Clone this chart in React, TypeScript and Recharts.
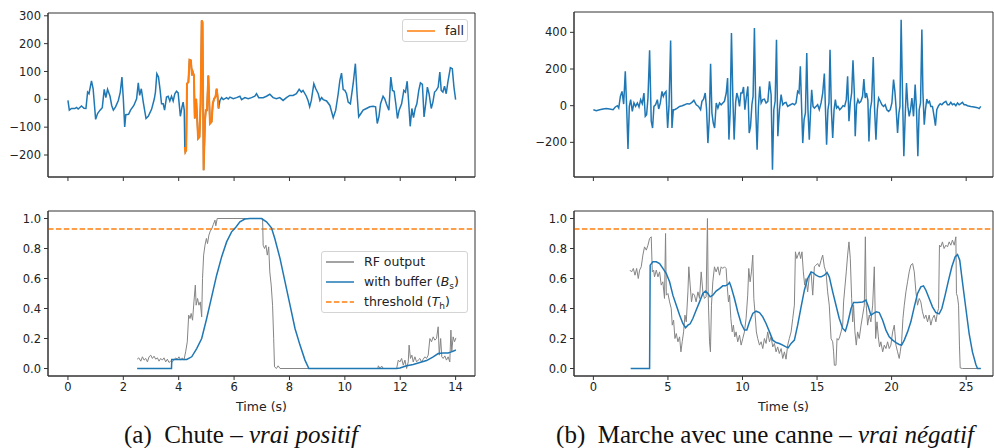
import { LineChart, Line, XAxis, YAxis, ReferenceLine, ReferenceArea } from 'recharts'
import type { ReactNode } from 'react'

const BLUE = '#1f77b4'
const ORANGE = '#ff7f0e'
const GREY = '#858585'
const SPINE = '#333'
const INK = '#222'
const FONT = '"DejaVu Sans", sans-serif'

type Pt = [number, number]

// (a) chute: accelerometer signal, the fall segment is drawn again in orange
const signalA_before: Pt[] = [
  [0.0, -4], [0.05, -39], [0.13, -33], [0.25, -33], [0.31, -29], [0.37, -35], [0.49, -24], [0.58, -32],
  [0.65, -33], [0.71, 26], [0.76, 20], [0.85, 66], [0.91, 38], [1.0, -72], [1.07, -51], [1.16, -39],
  [1.24, -30], [1.31, 36], [1.37, 6], [1.43, 36], [1.52, 11], [1.58, -22], [1.64, -39], [1.72, -27],
  [1.82, -4], [1.89, 26], [1.95, 80], [2.0, 2], [2.05, -99], [2.09, -55], [2.19, -54], [2.26, -39],
  [2.38, -22], [2.48, 2], [2.54, 59], [2.59, 14], [2.65, 38], [2.72, -10], [2.82, -69], [2.9, -61],
  [3.02, -36], [3.12, 2], [3.16, 26], [3.21, 92], [3.27, 80], [3.33, 32], [3.38, -16], [3.44, -16],
  [3.49, -39], [3.56, 8], [3.62, 11], [3.68, -6], [3.74, 11], [3.8, -6], [3.86, 20], [3.92, 29],
  [3.98, 23], [4.06, -61], [4.12, -27], [4.16, -10], [4.2, -39],
]
const fallA: Pt[] = [
  [4.22, -171], [4.24, -189], [4.27, -183], [4.3, 56], [4.35, 62], [4.39, 142], [4.44, 140], [4.48, 86],
  [4.51, 98], [4.55, 86], [4.58, -69], [4.63, 2], [4.67, -75], [4.7, -141], [4.75, -135], [4.79, -16],
  [4.83, 283], [4.86, 277], [4.9, -255], [4.95, -75], [4.98, -39], [5.02, -39], [5.07, 85], [5.13, -87],
  [5.19, -80], [5.23, -16], [5.28, 2], [5.33, 10], [5.37, 38], [5.4, 14], [5.44, -33],
]
const signalA_after: Pt[] = [
  [5.49, -4], [5.55, 6], [5.61, -1], [5.73, 6], [5.79, 1], [5.85, 8], [5.97, 2], [6.09, 6], [6.21, 11],
  [6.27, -1], [6.39, 6], [6.51, 2], [6.63, 6], [6.75, 11], [6.81, 20], [6.89, 6], [7.05, 6], [7.17, 11],
  [7.29, 18], [7.41, 6], [7.53, 2], [7.65, 6], [7.77, -4], [7.89, 6], [8.01, 14], [8.13, 14], [8.25, 20],
  [8.35, 36], [8.43, 26], [8.49, 32], [8.61, 11], [8.67, -4], [8.73, -27], [8.79, -4], [8.88, 56],
  [8.95, 38], [9.04, 20], [9.1, -4], [9.16, 6], [9.22, -1], [9.34, -6], [9.46, -22], [9.58, -66],
  [9.67, -39], [9.76, 20], [9.82, 68], [9.88, 94], [9.94, 35], [10.0, 32], [10.06, 20], [10.12, -10],
  [10.2, -16], [10.3, 56], [10.38, 128], [10.44, 20], [10.5, -63], [10.58, -51], [10.66, -39],
  [10.78, -33], [10.9, -27], [11.02, -25], [11.11, -27], [11.17, -87], [11.23, -63], [11.29, -16],
  [11.38, 11], [11.44, 2], [11.5, -16], [11.59, -39], [11.66, 80], [11.72, 32], [11.78, 29],
  [11.84, -16], [11.9, -69], [11.96, -39], [12.05, -16], [12.13, 32], [12.19, 26], [12.25, 65],
  [12.3, -4], [12.36, -97], [12.42, -33], [12.48, -66], [12.54, -33], [12.6, -16], [12.67, 32],
  [12.73, 59], [12.8, 54], [12.86, -63], [12.92, -16], [12.98, 44], [13.04, 20], [13.12, -33],
  [13.18, -10], [13.24, 26], [13.3, 32], [13.37, 44], [13.43, 98], [13.48, 32], [13.54, 26],
  [13.6, 47], [13.66, 20], [13.72, 62], [13.81, 114], [13.88, 110], [13.94, 44], [14.0, -1],
]

// (b) marche avec une canne: accelerometer signal
const signalB: Pt[] = [
  [0.0, -22], [0.2, -27], [0.42, -22], [0.65, -18], [0.87, -15], [1.09, -18], [1.32, -22], [1.47, -7],
  [1.61, 0], [1.7, -13], [1.81, 51], [1.92, 78], [2.03, 9], [2.14, 187], [2.23, -4], [2.32, -236],
  [2.41, -4], [2.5, 33], [2.61, -31], [2.72, 15], [2.83, -4], [2.95, 15], [3.06, -7], [3.17, 33],
  [3.28, 11], [3.39, 69], [3.48, -58], [3.57, -49], [3.66, 42], [3.77, 302], [3.88, -85], [3.97, -122],
  [4.06, -4], [4.17, 5], [4.29, 33], [4.38, -18], [4.49, 15], [4.6, 78], [4.69, 51], [4.78, 69],
  [4.87, 78], [4.98, -122], [5.07, -4], [5.18, 356], [5.27, -122], [5.36, -22], [5.45, -22],
  [5.63, -13], [5.78, -4], [5.96, 0], [6.12, 5], [6.29, 11], [6.45, 9], [6.61, 18], [6.74, 29],
  [6.9, 5], [7.05, -4], [7.19, -22], [7.28, 24], [7.39, 36], [7.5, 69], [7.59, -18], [7.68, -204],
  [7.77, -76], [7.86, 229], [7.95, -40], [8.04, -95], [8.13, -122], [8.24, 15], [8.35, -13],
  [8.46, 15], [8.57, 5], [8.68, 15], [8.79, 24], [8.91, 69], [9.0, 151], [9.09, -185], [9.17, -40],
  [9.26, 396], [9.35, 51], [9.44, -185], [9.54, 18], [9.62, 69], [9.71, 42], [9.8, -4], [9.89, 69],
  [9.98, 69], [10.07, 102], [10.16, -22], [10.25, 42], [10.36, 105], [10.45, -149], [10.54, -113],
  [10.63, 5], [10.71, 51], [10.8, 424], [10.89, -22], [10.98, -240], [11.07, -4], [11.16, 105],
  [11.25, 15], [11.36, 33], [11.47, 36], [11.58, 15], [11.7, 24], [11.81, 133], [11.92, 60],
  [12.01, -349], [12.1, -22], [12.19, 24], [12.28, 360], [12.37, -167], [12.48, -22], [12.59, 60],
  [12.7, 5], [12.81, 15], [12.92, 18], [13.03, -4], [13.21, 5], [13.37, 11], [13.48, 5], [13.59, 15],
  [13.7, 78], [13.79, 69], [13.88, 215], [13.97, -22], [14.04, -204], [14.13, -76], [14.22, -40],
  [14.31, 287], [14.39, -22], [14.48, -185], [14.57, -22], [14.64, 87], [14.73, -4], [14.82, -13],
  [14.93, -4], [15.04, 5], [15.15, -22], [15.27, 15], [15.38, 69], [15.49, 175], [15.58, -58],
  [15.64, -213], [15.73, -22], [15.8, 15], [15.87, 305], [15.96, -22], [16.05, -176], [16.14, -22],
  [16.23, 33], [16.31, -13], [16.4, -4], [16.52, -22], [16.63, -13], [16.74, 0], [16.85, -4],
  [16.96, 33], [17.05, 160], [17.14, -85], [17.23, 15], [17.32, 69], [17.41, 247], [17.5, 69],
  [17.56, -167], [17.65, 5], [17.74, 33], [17.83, 15], [17.94, 24], [18.05, 51], [18.14, 145],
  [18.23, 42], [18.32, 69], [18.41, 29], [18.48, -195], [18.57, -22], [18.66, 24], [18.77, 265],
  [18.86, -22], [18.95, -185], [19.04, -22], [19.13, 42], [19.24, 24], [19.35, 5], [19.46, -4],
  [19.57, 5], [19.68, -22], [19.8, -31], [19.91, -22], [20.02, 15], [20.13, 142], [20.22, 78],
  [20.31, -22], [20.4, -149], [20.49, -40], [20.56, -4], [20.64, 469], [20.73, 69], [20.82, -276],
  [20.91, -58], [21.0, 124], [21.09, -4], [21.18, -58], [21.27, -22], [21.36, 42], [21.47, -58],
  [21.58, 115], [21.67, -22], [21.76, -276], [21.85, -22], [21.94, 15], [22.03, 415], [22.1, 69],
  [22.19, -104], [22.27, -22], [22.36, 36], [22.45, 15], [22.54, 24], [22.63, -4], [22.74, -4],
  [22.85, -58], [22.94, -109], [23.03, -22], [23.15, 0], [23.26, 11], [23.37, 5], [23.48, 15],
  [23.64, 24], [23.75, 5], [23.86, 5], [23.97, 18], [24.08, 5], [24.19, 11], [24.31, 0], [24.42, 15],
  [24.53, 5], [24.64, 11], [24.75, 18], [24.86, 5], [24.97, 5], [25.09, 0], [25.31, -4], [25.53, -7],
  [25.76, -11], [25.87, -16], [25.98, -4],
]

// classifier outputs
const rfA: Pt[] = [
  [2.5, 0.062], [2.56, 0.071], [2.63, 0.049], [2.69, 0.078], [2.75, 0.056], [2.81, 0.067], [2.87, 0.044],
  [2.93, 0.078], [2.99, 0.089], [3.05, 0.067], [3.11, 0.082], [3.17, 0.062], [3.23, 0.071], [3.29, 0.049],
  [3.35, 0.067], [3.41, 0.056], [3.47, 0.071], [3.53, 0.044], [3.59, 0.062], [3.65, 0.04], [3.71, 0.049],
  [3.77, 0.044], [3.83, 0.056], [3.89, 0.071], [3.95, 0.062], [4.01, 0.078], [4.07, 0.056], [4.13, 0.071],
  [4.19, 0.056], [4.25, 0.111], [4.31, 0.178], [4.36, 0.356], [4.41, 0.333], [4.45, 0.367], [4.5, 0.322],
  [4.55, 0.444], [4.6, 0.556], [4.63, 0.422], [4.68, 0.467], [4.73, 0.422], [4.78, 0.444], [4.83, 0.344],
  [4.86, 0.6], [4.9, 0.756], [4.95, 0.822], [5.0, 0.867], [5.04, 0.833], [5.09, 0.889], [5.14, 0.916],
  [5.19, 0.929], [5.25, 0.96], [5.31, 0.989], [5.34, 0.951], [5.39, 1.0], [7.03, 1.0], [7.05, 0.822],
  [7.1, 0.8], [7.15, 0.822], [7.2, 0.756], [7.25, 0.811], [7.29, 0.644], [7.34, 0.556], [7.39, 0.422],
  [7.43, 0.2], [7.46, 0.011], [7.53, 0], [7.59, 0.018], [7.66, 0], [11.19, 0], [11.21, 0.018], [11.27, 0],
  [11.33, 0.016], [11.39, 0], [11.87, 0], [11.93, 0.056], [11.99, 0.044], [12.05, 0.067], [12.11, 0.022],
  [12.17, 0.056], [12.23, 0], [12.29, 0.044], [12.32, 0.156], [12.37, 0.067], [12.42, 0.089], [12.47, 0.044],
  [12.53, 0.078], [12.59, 0.044], [12.65, 0.056], [12.71, 0.067], [12.77, 0.044], [12.83, 0.062],
  [12.89, 0.078], [12.95, 0.067], [13.01, 0.089], [13.07, 0.2], [13.13, 0.178], [13.19, 0.211],
  [13.25, 0.189], [13.31, 0.2], [13.37, 0.278], [13.41, 0.089], [13.46, 0.2], [13.5, 0.078], [13.55, 0.067],
  [13.61, 0.084], [13.67, 0.056], [13.73, 0.078], [13.79, 0.044], [13.83, 0.256], [13.86, 0.111],
  [13.91, 0.211], [13.96, 0.178], [14.01, 0.204],
]
const bufferA: Pt[] = [
  [2.5, 0], [3.74, 0], [3.75, 0.06], [4.29, 0.06], [4.47, 0.078], [4.65, 0.133], [4.83, 0.2], [5.01, 0.333],
  [5.19, 0.478], [5.37, 0.622], [5.55, 0.744], [5.73, 0.844], [5.91, 0.911], [6.07, 0.944], [6.21, 0.978],
  [6.39, 0.996], [6.57, 1.0], [6.81, 1.0], [6.99, 1.0], [7.17, 0.978], [7.35, 0.938], [7.47, 0.867],
  [7.66, 0.733], [7.84, 0.578], [8.02, 0.422], [8.2, 0.267], [8.38, 0.156], [8.56, 0.056], [8.7, 0],
  [11.87, 0], [11.99, 0.004], [12.23, 0.018], [12.47, 0.027], [12.71, 0.04], [12.95, 0.053], [13.19, 0.078],
  [13.37, 0.1], [13.55, 0.104], [13.73, 0.104], [13.85, 0.111], [13.97, 0.12], [14.01, 0.124],
]
const rfB: Pt[] = [
  [2.45, 0.656], [2.56, 0.644], [2.68, 0.667], [2.79, 0.622], [2.9, 0.667], [3.01, 0.6], [3.1, 0.656],
  [3.21, 0.678], [3.32, 0.756], [3.43, 0.811], [3.55, 0.789], [3.66, 0.822], [3.77, 0.867], [3.88, 0.878],
  [3.95, 0.644], [4.04, 0.656], [4.1, 0.611], [4.22, 0.656], [4.33, 0.611], [4.44, 0.644], [4.55, 0.556],
  [4.66, 0.578], [4.77, 0.467], [4.84, 0.9], [4.89, 0.489], [5.0, 0.5], [5.11, 0.444], [5.22, 0.4],
  [5.29, 0.289], [5.38, 0.322], [5.47, 0.2], [5.56, 0.233], [5.67, 0.178], [5.78, 0.211], [5.87, 0.111],
  [5.96, 0.18], [6.05, 0.244], [6.14, 0.356], [6.23, 0.311], [6.34, 0.511], [6.4, 0.678], [6.49, 0.556],
  [6.58, 0.444], [6.67, 0.5], [6.78, 0.489], [6.89, 0.444], [7.01, 0.511], [7.12, 0.467], [7.23, 0.644],
  [7.34, 0.511], [7.45, 0.467], [7.56, 0.478], [7.65, 1.0], [7.7, 0.489], [7.79, 0.178], [7.85, 0.111],
  [7.92, 0.422], [8.01, 0.578], [8.12, 0.678], [8.23, 0.644], [8.35, 0.678], [8.46, 0.622], [8.57, 0.678],
  [8.68, 0.667], [8.79, 0.678], [8.9, 0.667], [8.97, 0.556], [9.06, 0.444], [9.13, 0.489], [9.22, 0.333],
  [9.31, 0.244], [9.39, 0.289], [9.48, 0.211], [9.57, 0.244], [9.68, 0.178], [9.8, 0.222], [9.91, 0.156],
  [10.02, 0.2], [10.13, 0.244], [10.24, 0.333], [10.35, 0.489], [10.42, 0.667], [10.51, 0.578],
  [10.6, 0.644], [10.69, 0.756], [10.76, 0.467], [10.85, 0.356], [10.93, 0.244], [11.02, 0.2],
  [11.14, 0.156], [11.25, 0.178], [11.36, 0.133], [11.47, 0.2], [11.58, 0.167], [11.69, 0.244],
  [11.81, 0.178], [11.92, 0.211], [12.03, 0.144], [12.14, 0.167], [12.25, 0.111], [12.36, 0.144],
  [12.47, 0.1], [12.59, 0.133], [12.7, 0.067], [12.81, 0.111], [12.92, 0.062], [13.03, 0.156], [13.14, 0.2],
  [13.26, 0.244], [13.37, 0.333], [13.48, 0.422], [13.55, 0.778], [13.64, 0.733], [13.72, 0.756],
  [13.81, 0.778], [13.9, 0.733], [13.99, 0.778], [14.08, 0.644], [14.17, 0.556], [14.26, 0.6],
  [14.37, 0.511], [14.48, 0.611], [14.6, 0.644], [14.71, 0.489], [14.82, 0.678], [14.93, 0.689],
  [15.04, 0.7], [15.15, 0.678], [15.27, 0.722], [15.38, 0.756], [15.49, 0.678], [15.6, 0.644],
  [15.71, 0.511], [15.82, 0.422], [15.94, 0.2], [16.05, 0.178], [16.11, 0.111], [16.16, 0.022],
  [16.27, 0.022], [16.34, 0.2], [16.43, 0.189], [16.52, 0.211], [16.61, 0.244], [16.72, 0.289],
  [16.78, 0.444], [16.87, 0.544], [16.96, 0.644], [17.05, 0.756], [17.14, 0.844], [17.23, 0.733],
  [17.32, 0.467], [17.39, 0.311], [17.45, 0.422], [17.54, 0.244], [17.63, 0.156], [17.72, 0.244],
  [17.83, 0.2], [17.95, 0.289], [18.06, 0.356], [18.17, 0.422], [18.24, 0.878], [18.3, 0.422],
  [18.39, 0.289], [18.5, 0.356], [18.61, 0.311], [18.73, 0.422], [18.84, 0.678], [18.93, 0.2],
  [19.02, 0.311], [19.11, 0.211], [19.19, 0.144], [19.28, 0.178], [19.4, 0.111], [19.51, 0.156],
  [19.62, 0.133], [19.73, 0.178], [19.84, 0.133], [19.95, 0.156], [20.07, 0.244], [20.18, 0.289],
  [20.29, 0.156], [20.4, 0.111], [20.51, 0.067], [20.58, 0.111], [20.67, 0.178], [20.76, 0.333],
  [20.85, 0.422], [20.96, 0.511], [21.07, 0.578], [21.18, 0.644], [21.29, 0.689], [21.41, 0.7],
  [21.52, 0.644], [21.63, 0.511], [21.74, 0.422], [21.85, 0.467], [21.96, 0.444], [22.07, 0.378],
  [22.19, 0.333], [22.3, 0.356], [22.41, 0.311], [22.52, 0.356], [22.63, 0.289], [22.74, 0.333],
  [22.86, 0.356], [22.97, 0.311], [23.08, 0.378], [23.15, 0.4], [23.21, 0.822], [23.3, 0.811],
  [23.41, 0.844], [23.52, 0.8], [23.64, 0.822], [23.75, 0.811], [23.86, 0.844], [23.97, 0.822],
  [24.08, 0.856], [24.2, 0.822], [24.31, 0.878], [24.35, 0.5], [24.42, 0.478], [24.49, 0.422],
  [24.55, 0.156], [24.6, 0.004], [24.75, 0], [25.98, 0],
]
const bufferB: Pt[] = [
  [2.5, 0], [3.77, 0], [3.81, 0.689], [3.99, 0.711], [4.22, 0.711], [4.44, 0.7], [4.66, 0.667], [4.89, 0.633],
  [5.11, 0.578], [5.33, 0.489], [5.56, 0.422], [5.78, 0.356], [6.0, 0.3], [6.18, 0.271], [6.34, 0.289],
  [6.49, 0.298], [6.67, 0.333], [6.89, 0.389], [7.12, 0.444], [7.34, 0.5], [7.52, 0.516], [7.68, 0.5],
  [7.83, 0.478], [8.01, 0.489], [8.23, 0.516], [8.46, 0.533], [8.68, 0.551], [8.86, 0.551], [9.02, 0.56],
  [9.13, 0.573], [9.24, 0.544], [9.46, 0.467], [9.68, 0.378], [9.91, 0.3], [10.13, 0.256], [10.29, 0.256],
  [10.47, 0.311], [10.69, 0.367], [10.91, 0.382], [11.14, 0.373], [11.36, 0.344], [11.58, 0.3],
  [11.81, 0.244], [12.03, 0.189], [12.25, 0.173], [12.47, 0.167], [12.7, 0.156], [12.92, 0.144],
  [13.06, 0.138], [13.26, 0.167], [13.48, 0.189], [13.7, 0.289], [13.93, 0.411], [14.15, 0.522],
  [14.37, 0.6], [14.6, 0.644], [14.75, 0.638], [14.93, 0.622], [15.15, 0.611], [15.27, 0.611],
  [15.49, 0.622], [15.67, 0.64], [15.82, 0.611], [16.05, 0.511], [16.27, 0.422], [16.49, 0.333],
  [16.72, 0.267], [16.9, 0.249], [17.05, 0.3], [17.28, 0.4], [17.45, 0.44], [17.72, 0.44], [18.06, 0.444],
  [18.28, 0.456], [18.44, 0.411], [18.61, 0.356], [18.79, 0.367], [18.97, 0.378], [19.17, 0.373],
  [19.4, 0.322], [19.62, 0.256], [19.84, 0.211], [20.07, 0.189], [20.29, 0.173], [20.51, 0.16],
  [20.67, 0.156], [20.85, 0.189], [21.07, 0.244], [21.29, 0.311], [21.52, 0.411], [21.74, 0.5],
  [21.96, 0.544], [22.14, 0.551], [22.3, 0.522], [22.52, 0.467], [22.74, 0.411], [22.97, 0.373],
  [23.19, 0.364], [23.37, 0.4], [23.59, 0.489], [23.82, 0.589], [24.04, 0.678], [24.26, 0.744],
  [24.42, 0.76], [24.57, 0.722], [24.75, 0.578], [24.98, 0.4], [25.2, 0.233], [25.42, 0.111],
  [25.65, 0.027], [25.76, 0], [25.98, 0],
]

const THRESHOLD = 0.93

const ticksA = [0, 2, 4, 6, 8, 10, 12, 14]
const ticksB = [0, 5, 10, 15, 20, 25]
const accTicksA = [-200, -100, 0, 100, 200, 300]
const accTicksB = [-200, 0, 200, 400]
const probTicks = [0, 0.2, 0.4, 0.6, 0.8, 1.0]

const rows = (pts: Pt[]) => pts.map(([t, v]) => ({ t, v }))
const minus = (v: number) => (v < 0 ? '\u2212' + Math.abs(v) : String(v))
const oneDec = (v: number) => v.toFixed(1)
const blank = () => ''

const tickStyle = { fill: INK, fontSize: 11.5, fontFamily: FONT }

interface PanelProps {
  left: number
  top: number
  width: number
  height: number
  marginTop: number
  marginRight: number
  yWidth: number
  xHeight: number
  xDomain: [number, number]
  xTicks: number[]
  yDomain: [number, number]
  yTicks: number[]
  yFormat: (v: number) => string
  bottom?: boolean
  children: ReactNode
}

const Panel = ({
  left, top, width, height, marginTop, marginRight, yWidth, xHeight,
  xDomain, xTicks, yDomain, yTicks, yFormat, bottom = false, children,
}: PanelProps) => (
  <div style={{ position: 'absolute', left, top }}>
    <LineChart
      width={width}
      height={height}
      margin={{ top: marginTop, right: marginRight, bottom: 0, left: 0 }}
    >
      <XAxis
        dataKey="t"
        type="number"
        domain={xDomain}
        ticks={xTicks}
        allowDataOverflow
        height={xHeight}
        stroke={SPINE}
        tickSize={4}
        tickMargin={3}
        tick={tickStyle}
        tickFormatter={bottom ? String : blank}
        label={
          bottom
            ? { value: 'Time (s)', position: 'insideBottom', offset: 14, fill: INK, fontSize: 12.5, fontFamily: FONT }
            : undefined
        }
      />
      <YAxis
        type="number"
        domain={yDomain}
        ticks={yTicks}
        allowDataOverflow
        width={yWidth}
        stroke={SPINE}
        tickSize={4}
        tickMargin={3}
        tick={tickStyle}
        tickFormatter={yFormat}
      />
      {children}
      {/* frame: matplotlib draws all four spines */}
      <ReferenceArea
        x1={xDomain[0]}
        x2={xDomain[1]}
        y1={yDomain[0]}
        y2={yDomain[1]}
        ifOverflow="visible"
        fill="none"
        fillOpacity={0}
        stroke={SPINE}
        strokeWidth={1}
      />
    </LineChart>
  </div>
)

const line = (pts: Pt[], color: string, w: number, key: string) => (
  <Line
    key={key}
    data={rows(pts)}
    dataKey="v"
    type="linear"
    stroke={color}
    strokeWidth={w}
    dot={false}
    activeDot={false}
    isAnimationActive={false}
  />
)

const threshold = (
  <ReferenceLine y={THRESHOLD} stroke={ORANGE} strokeWidth={1.5} strokeDasharray="5.5 2.4" />
)

const legendBox = {
  position: 'absolute' as const,
  boxSizing: 'border-box' as const,
  border: '1px solid #d4d4d4',
  borderRadius: 3,
  background: 'rgba(255,255,255,0.85)',
  fontFamily: FONT,
  fontSize: 12.5,
  color: INK,
}

const Sample = ({ y, color, dashed = false }: { y: number; color: string; dashed?: boolean }) => (
  <svg style={{ position: 'absolute', left: 4, top: y - 3 }} width={29} height={6}>
    <line x1={0} x2={28} y1={3} y2={3} stroke={color} strokeWidth={1.5} strokeDasharray={dashed ? '5.5 2.4' : undefined} />
  </svg>
)

const Entry = ({ y, children }: { y: number; children: ReactNode }) => (
  <div style={{ position: 'absolute', left: 42, top: y - 8, lineHeight: '16px', whiteSpace: 'nowrap' }}>{children}</div>
)

const caption = {
  position: 'absolute' as const,
  top: 422,
  fontFamily: '"Liberation Serif", serif',
  fontSize: 25,
  lineHeight: '25px',
  color: '#111',
  whiteSpace: 'pre' as const,
  transform: 'translateX(-50%)',
}

export default function App() {
  const fullA = [...signalA_before, ...fallA, ...signalA_after]
  return (
    <div style={{ position: 'absolute', left: 0, top: 0, width: 994, height: 448, background: '#fff', overflow: 'hidden' }}>
      <Panel
        left={0} top={0} width={480} height={190} marginTop={13} marginRight={5} yWidth={48} xHeight={13}
        xDomain={[-0.72, 14.7]} xTicks={ticksA} yDomain={[-279, 310]} yTicks={accTicksA} yFormat={minus}
      >
        {line(fullA, BLUE, 1.5, 'acc')}
        {line(fallA, ORANGE, 2, 'fall')}
      </Panel>
      <Panel
        left={497} top={0} width={497} height={190} marginTop={12} marginRight={1} yWidth={77} xHeight={13}
        xDomain={[-1.3, 26.8]} xTicks={ticksB} yDomain={[-389, 511]} yTicks={accTicksB} yFormat={minus}
      >
        {line(signalB, BLUE, 1.5, 'acc')}
      </Panel>
      <Panel
        left={0} top={200} width={480} height={225} marginTop={11} marginRight={5} yWidth={48} xHeight={49}
        xDomain={[-0.72, 14.7]} xTicks={ticksA} yDomain={[-0.05, 1.05]} yTicks={probTicks} yFormat={oneDec} bottom
      >
        {threshold}
        {line(rfA, GREY, 1, 'rf')}
        {line(bufferA, BLUE, 1.5, 'buf')}
      </Panel>
      <Panel
        left={497} top={200} width={497} height={225} marginTop={11} marginRight={1} yWidth={77} xHeight={49}
        xDomain={[-1.3, 26.8]} xTicks={ticksB} yDomain={[-0.05, 1.05]} yTicks={probTicks} yFormat={oneDec} bottom
      >
        {threshold}
        {line(rfB, GREY, 1, 'rf')}
        {line(bufferB, BLUE, 1.5, 'buf')}
      </Panel>

      <div style={{ ...legendBox, left: 402, top: 19, width: 66, height: 23 }}>
        <Sample y={11} color={ORANGE} />
        <Entry y={11}>fall</Entry>
      </div>

      <div style={{ ...legendBox, left: 321, top: 251, width: 147, height: 62 }}>
        <Sample y={10} color={GREY} />
        <Entry y={10}>RF output</Entry>
        <Sample y={30} color={BLUE} />
        <Entry y={30}>
          with buffer (<i>B</i>
          <span style={{ fontSize: 9, position: 'relative', top: 3 }}>s</span>)
        </Entry>
        <Sample y={50} color={ORANGE} dashed />
        <Entry y={50}>
          threshold (<i>T</i>
          <span style={{ fontSize: 9, position: 'relative', top: 3 }}>h</span>)
        </Entry>
      </div>

      <div style={{ ...caption, left: 241 }}>
        {'(a)  Chute – '}
        <i>vrai positif</i>
      </div>
      <div style={{ ...caption, left: 765 }}>
        {'(b)  Marche avec une canne – '}
        <i>vrai négatif</i>
      </div>
    </div>
  )
}
